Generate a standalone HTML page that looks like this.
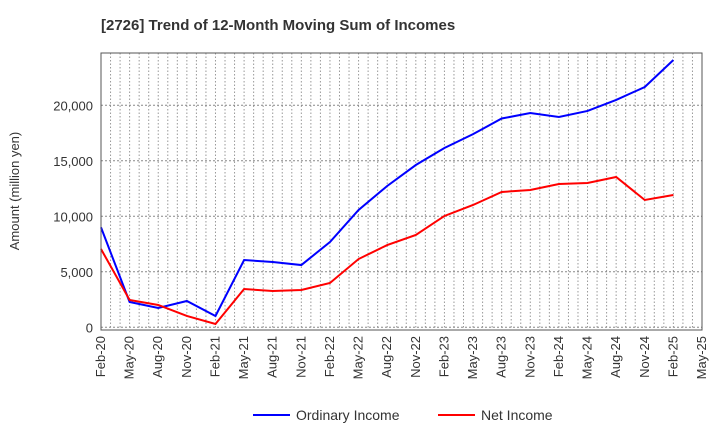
<!DOCTYPE html>
<html><head><meta charset="utf-8"><style>
body{margin:0;background:#fff;font-family:"Liberation Sans",sans-serif}
svg text{font-family:"Liberation Sans",sans-serif}
</style></head><body>
<svg id="chart" width="720" height="440">
<text x="101" y="30" font-size="15" font-weight="bold" fill="#333">[2726]  Trend of 12-Month Moving Sum of Incomes</text>
<text transform="translate(19,191) rotate(-90)" text-anchor="middle" font-size="13" fill="#333">Amount (million yen)</text>
<g id="grid"></g>
<g id="series"></g>
<rect x="101" y="53" width="601" height="277" fill="none" stroke="#555" stroke-width="1"/>
<g id="axes"></g>
<g>
<line x1="253" y1="415" x2="290" y2="415" stroke="#0000ff" stroke-width="2"/>
<text x="296" y="420" font-size="14" fill="#333">Ordinary Income</text>
<line x1="438" y1="415" x2="475" y2="415" stroke="#ff0000" stroke-width="2"/>
<text x="481" y="420" font-size="14" fill="#333">Net Income</text>
</g>
</svg>
<script>
const xLabels=["Feb-20","May-20","Aug-20","Nov-20","Feb-21","May-21","Aug-21","Nov-21","Feb-22","May-22","Aug-22","Nov-22","Feb-23","May-23","Aug-23","Nov-23","Feb-24","May-24","Aug-24","Nov-24","Feb-25","May-25"];
const yTicks=[0,5000,10000,15000,20000];
const ordinaryIncome=[9000,2280,1740,2370,1020,6060,5880,5610,7680,10570,12730,14620,16150,17400,18810,19300,18950,19490,20480,21650,24080];
const netIncome=[7050,2460,2010,1020,300,3450,3270,3360,3990,6150,7410,8320,10030,11020,12190,12370,12910,13000,13540,11470,11920];
const NS="http://www.w3.org/2000/svg";
const X0=101,X1=702,Y0=327.3,PER=55.5/5000;
const xs=i=>X0+(X1-X0)*i/(xLabels.length-1);
const ys=v=>Y0-v*PER;
function mk(t,a,p){const e=document.createElementNS(NS,t);for(const k in a)e.setAttribute(k,a[k]);p.appendChild(e);return e;}
const grid=document.getElementById('grid'),axes=document.getElementById('axes'),ser=document.getElementById('series');
const months=(xLabels.length-1)*3;
for(let m=1;m<months;m++){const x=X0+(X1-X0)*m/months;
const l=mk('line',{x1:x,x2:x,y1:53,y2:330,stroke:'#999','stroke-width':1,'stroke-dasharray':'1.5,2'},grid);

}
yTicks.forEach(v=>{const y=ys(v);
const l=mk('line',{x1:X0,x2:X1,y1:y,y2:y,stroke:'#888','stroke-width':1,'stroke-dasharray':'2,2'},grid);


const t=mk('text',{x:93,y:y+5,'text-anchor':'end','font-size':13,fill:'#333'},axes);t.textContent=v.toLocaleString('en-US');

});
xLabels.forEach((s,i)=>{const x=xs(i);
const t=mk('text',{transform:`translate(${x+4},336) rotate(-90)`,'text-anchor':'end','font-size':13,fill:'#333'},axes);t.textContent=s;

});
function line(d,c,n){const p=mk('polyline',{points:d.map((v,i)=>xs(i)+','+ys(v)).join(' '),fill:'none',stroke:c,'stroke-width':2},ser);

}
line(ordinaryIncome,'#0000ff','ordinary-income-line');
line(netIncome,'#ff0000','net-income-line');
</script>
</body></html>
